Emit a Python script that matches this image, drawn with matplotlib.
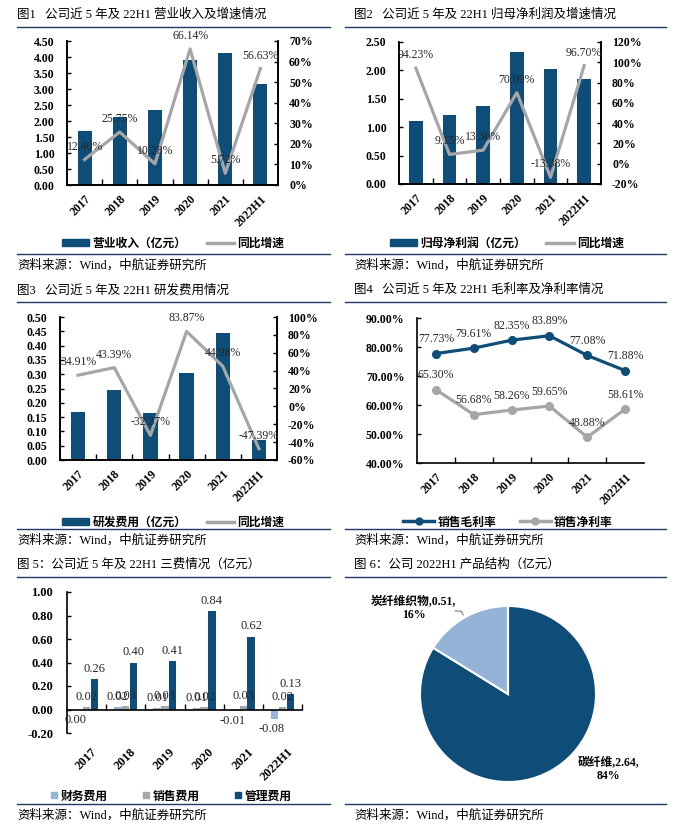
import numpy as np
import matplotlib
matplotlib.use('Agg')
import matplotlib.pyplot as plt
from matplotlib.lines import Line2D
from matplotlib.patches import Patch

plt.rcParams['font.family'] = ['Liberation Serif', 'Noto Sans CJK SC']
plt.rcParams['axes.unicode_minus'] = False

W, H = 682, 830
DARK = '#0E4D78'
GRAY = '#A6A6A6'
LIGHT = '#95B3D7'
RULE = '#1F3864'
LBL = '#262626'

years = ['2017', '2018', '2019', '2020', '2021', '2022H1']

revenue = [1.69, 2.12, 2.34, 3.90, 4.12, 3.15]
revenue_yoy = [12.40, 25.75, 10.28, 66.14, 5.72, 56.63]

profit = [1.11, 1.21, 1.37, 2.32, 2.02, 1.85]
profit_yoy = [94.23, 9.15, 13.36, 70.09, -13.38, 96.70]

rd = [0.168, 0.245, 0.164, 0.304, 0.444, 0.07]
rd_yoy = [34.91, 43.39, -32.37, 83.87, 44.98, -47.39]

gross_margin = [77.73, 79.61, 82.35, 83.89, 77.08, 71.88]
net_margin = [65.30, 56.68, 58.26, 59.65, 48.88, 58.61]

fee_names = ['财务费用', '销售费用', '管理费用']
fin_fee = [0.00, 0.02, 0.01, 0.01, -0.01, -0.08]
sale_fee = [0.02, 0.03, 0.03, 0.02, 0.03, 0.02]
mgmt_fee = [0.26, 0.40, 0.41, 0.84, 0.62, 0.13]

products = ['碳纤维', '炭纤维织物']
product_rev = [2.64, 0.51]

SOURCE = '资料来源：Wind，中航证券研究所'
LEG_FONT = dict(family=['Noto Sans CJK SC'], weight='bold', size=8.5)

fig = plt.figure(figsize=(W / 100, H / 100), dpi=100)


def px_axes(x0, y0, x1, y1):
    return fig.add_axes([x0 / W, 1 - y1 / H, (x1 - x0) / W, (y1 - y0) / H])


def hline(x0, x1, y):
    fig.add_artist(Line2D([x0 / W, x1 / W], [1 - y / H] * 2, color=RULE, lw=1))


def frame(col, top, title):
    if col == 0:
        tx, lx0, lx1 = 17, 17, 330
    else:
        tx, lx0, lx1 = 354, 345, 666
    fig.text(tx / W, 1 - (top + 15) / H, title, fontsize=9, va='center')
    hline(lx0, lx1, top + 27)
    hline(lx0, lx1, top + 254)
    fig.text(tx / W, 1 - (top + 265) / H, SOURCE, fontsize=9, va='center')


def cat_axis(ax):
    x = np.arange(len(years))
    ax.set_xlim(-0.5, len(years) - 0.5)
    ax.set_xticks(x)
    ax.set_xticklabels(years, rotation=45, ha='right', rotation_mode='anchor',
                       fontweight='bold', fontsize=8.5)
    ax.set_xticks(np.arange(0.5, len(years) - 1, 1), minor=True)
    ax.tick_params(axis='x', which='major', length=0, pad=6)
    ax.tick_params(axis='x', which='minor', direction='in', length=4, width=1)
    return x


def bar_line(box, bars, yoy, yticks, rticks, bar_name, leg_xy):
    ax = px_axes(*box)
    x = cat_axis(ax)
    ax.bar(x, bars, width=0.4, color=DARK, zorder=2)
    ax.set_ylim(yticks[0], yticks[-1])
    ax.set_yticks(yticks)
    ax.set_yticklabels([f'{t:.2f}' for t in yticks], fontweight='bold', fontsize=8.5)
    ax.tick_params(axis='y', direction='in', length=3, width=1, pad=9)
    ax2 = ax.twinx()
    ax2.plot(x, yoy, color=GRAY, lw=2.3)
    ax2.set_ylim(rticks[0], rticks[-1])
    ax2.set_yticks(rticks)
    ax2.set_yticklabels([f'{t}%' for t in rticks], fontweight='bold', fontsize=8.5)
    ax2.tick_params(axis='y', direction='in', length=3, width=1, pad=8)
    for a in (ax, ax2):
        a.spines['top'].set_visible(False)
        for s in a.spines.values():
            s.set_linewidth(1.2)
    for i, v in enumerate(yoy):
        ax2.annotate(f'{v:.2f}%', (x[i], v), xytext=(0, 5), textcoords='offset points',
                     ha='center', va='bottom', fontsize=8.5, color=LBL)
    handles = [Patch(color=DARK), Line2D([], [], color=GRAY, lw=2.5)]
    fig.legend(handles, [bar_name, '同比增速'], loc='center',
               bbox_to_anchor=(leg_xy[0] / W, 1 - leg_xy[1] / H), ncol=2, frameon=False,
               prop=LEG_FONT, handlelength=2.3, handleheight=0.5, handletextpad=0.3,
               columnspacing=1.7)


# Figure 1
frame(0, 0, '图1   公司近 5 年及 22H1 营业收入及增速情况')
bar_line((67, 41, 278, 185), revenue, revenue_yoy, np.arange(0, 4.51, 0.5),
         list(range(0, 71, 10)), '营业收入（亿元）', (173, 243))

# Figure 2
frame(1, 0, '图2   公司近 5 年及 22H1 归母净利润及增速情况')
bar_line((399, 42, 601, 184), profit, profit_yoy, np.arange(0, 2.51, 0.5),
         list(range(-20, 121, 20)), '归母净利润（亿元）', (507, 243))

# Figure 3
frame(0, 275, '图3   公司近 5 年及 22H1 研发费用情况')
bar_line((60, 317, 277, 460), rd, rd_yoy, np.arange(0, 0.501, 0.05),
         list(range(-60, 101, 20)), '研发费用（亿元）', (173, 522))

# Figure 4
frame(1, 275, '图4   公司近 5 年及 22H1 毛利率及净利率情况')
ax = px_axes(417, 318, 644, 463)
x = cat_axis(ax)
ax.plot(x, gross_margin, color=DARK, lw=2.3, marker='o', ms=5.5)
ax.plot(x, net_margin, color=GRAY, lw=2.3, marker='o', ms=5.5)
for series in (gross_margin, net_margin):
    for i, v in enumerate(series):
        ax.annotate(f'{v:.2f}%', (x[i], v), xytext=(0, 6), textcoords='offset points',
                    ha='center', va='bottom', fontsize=8.5, color=LBL)
yt = list(range(40, 91, 10))
ax.set_ylim(40, 90)
ax.set_yticks(yt)
ax.set_yticklabels([f'{t:.2f}%' for t in yt], fontweight='bold', fontsize=8.5)
ax.tick_params(axis='y', direction='in', length=3, width=1, pad=9)
ax.spines['top'].set_visible(False)
ax.spines['right'].set_visible(False)
for s in ax.spines.values():
    s.set_linewidth(1.2)
handles = [Line2D([], [], color=DARK, lw=2.5, marker='o', ms=5),
           Line2D([], [], color=GRAY, lw=2.5, marker='o', ms=5)]
fig.legend(handles, ['销售毛利率', '销售净利率'], loc='center',
           bbox_to_anchor=(508 / W, 1 - 522 / H), ncol=2, frameon=False, prop=LEG_FONT,
           handlelength=2.6, handletextpad=0.3, columnspacing=2.0)

# Figure 5
frame(0, 550, '图 5：公司近 5 年及 22H1 三费情况（亿元）')
ax = px_axes(67, 592, 302, 733)
x = np.arange(len(years))
ax.set_xlim(-0.5, len(years) - 0.5)
bw = 0.2
for k, (vals, col) in enumerate(zip([fin_fee, sale_fee, mgmt_fee], [LIGHT, GRAY, DARK])):
    xs = x + (k - 1) * bw
    ax.bar(xs, vals, width=bw * 0.95, color=col, zorder=2)
    for xi, v in zip(xs, vals):
        if v > 0:
            ax.annotate(f'{v:.2f}', (xi, v), xytext=(0, 3), textcoords='offset points',
                        ha='center', va='bottom', fontsize=9, color=LBL)
        else:
            ax.annotate(f'{v:.2f}', (xi, v), xytext=(-2, -3), textcoords='offset points',
                        ha='center', va='top', fontsize=9, color=LBL)
yt = np.round(np.arange(-0.2, 1.01, 0.2), 2)
ax.set_ylim(-0.2, 1.0)
ax.set_yticks(yt)
ax.set_yticklabels([f'{t:.2f}' for t in yt], fontweight='bold', fontsize=9)
ax.tick_params(axis='y', direction='in', length=3, width=1, pad=10)
ax.spines['bottom'].set_position(('data', 0))
ax.spines['top'].set_visible(False)
ax.spines['right'].set_visible(False)
for s in ax.spines.values():
    s.set_linewidth(1.2)
ax.set_xticks([])
ax.set_xticks(np.arange(0.5, len(years), 1), minor=True)
ax.tick_params(axis='x', which='minor', direction='in', length=4, width=1, labelbottom=False)
for i, yr in enumerate(years):
    ax.annotate(yr, (x[i], 0), xycoords=('data', 'axes fraction'), xytext=(3, -9),
                textcoords='offset points', rotation=45, ha='right', va='top',
                rotation_mode='anchor', fontweight='bold', fontsize=9)
handles = [Line2D([], [], ls='', marker='s', ms=4.5, color=c) for c in (LIGHT, GRAY, DARK)]
fig.legend(handles, fee_names, loc='center', bbox_to_anchor=(171 / W, 1 - 796 / H),
           ncol=3, frameon=False, prop=LEG_FONT, handlelength=0.7, handletextpad=0.2,
           columnspacing=2.9)

# Figure 6
frame(1, 550, '图 6：公司 2022H1 产品结构（亿元）')
cx, cy, r = 508, 694, 88
ax = px_axes(cx - 1.5 * r, cy - 1.5 * r, cx + 1.5 * r, cy + 1.5 * r)
ax.pie(product_rev, colors=[DARK, LIGHT], startangle=90, counterclock=False,
       wedgeprops=dict(edgecolor='white', linewidth=1.5))
ax.set_xlim(-1.5, 1.5)
ax.set_ylim(-1.5, 1.5)
ax.axis('off')
total = sum(product_rev)
pos = [(1.14, -0.86), (-1.07, 0.97)]
for name, v, (px, py) in zip(products, product_rev, pos):
    ax.text(px, py, f'{name},{v:.2f},\n{v / total * 100:.0f}%', ha='center', va='center',
            fontsize=8.5, fontweight='bold', linespacing=1.15)
ax.plot([-0.6, -0.53, -0.51], [0.945, 0.94, 0.9], color='#7F7F7F', lw=0.8)

fig.savefig('out.png', dpi=100)
